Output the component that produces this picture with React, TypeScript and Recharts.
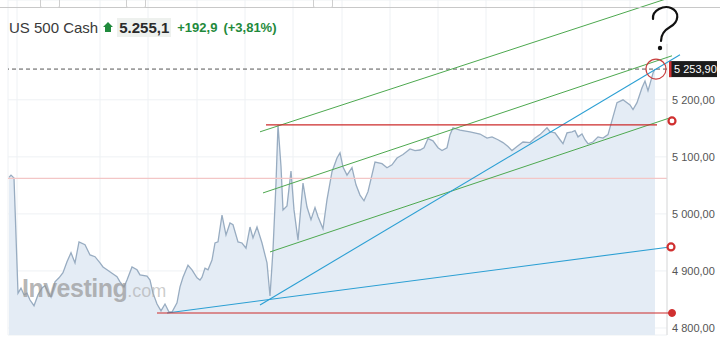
import React from "react";
import {
  ComposedChart,
  Area,
  XAxis,
  YAxis,
  CartesianGrid,
  ReferenceLine,
  ReferenceDot,
} from "recharts";

// bar index (time position) and close price of US 500 Cash
const bars = [
  1, 3, 6, 10, 13, 16, 19, 22, 26, 30, 34, 37, 40, 43, 47, 51, 55, 59, 63, 67,
  71, 77, 82, 87, 92, 95, 99, 104, 109, 112, 116, 119, 124, 129, 132, 139, 142,
  145, 149, 153, 157, 161, 164, 169, 172, 175, 180, 184, 189, 192, 194, 197, 200,
  204, 207, 210, 214, 218, 222, 225, 230, 234, 238, 242, 245, 249, 254, 259, 262,
  265, 268, 270, 273, 275, 279, 283, 286, 290, 295, 299, 303, 307, 310, 315, 319,
  324, 329, 332, 335, 339, 344, 348, 352, 356, 360, 367, 374, 379, 384, 389, 395,
  402, 407, 412, 416, 420, 425, 430, 434, 439, 442, 445, 452, 462, 472, 479, 484,
  490, 495, 500, 504, 509, 515, 522, 527, 532, 539, 542, 547, 552, 555, 559, 564,
  567, 570, 574, 577, 580, 585, 590, 595, 600, 605, 609, 615, 622, 625, 629, 634,
  637, 640, 642, 645, 647,
];
const closes = [
  5064, 5068, 5063, 4861, 4870, 4858, 4861, 4849, 4839, 4858, 4870, 4874, 4863,
  4854, 4881, 4888, 4897, 4916, 4932, 4914, 4951, 4946, 4928, 4925, 4914, 4907,
  4902, 4896, 4890, 4881, 4872, 4884, 4907, 4902, 4893, 4891, 4884, 4861, 4842,
  4830, 4842, 4828, 4828, 4844, 4872, 4889, 4910, 4902, 4888, 4884, 4889, 4905,
  4902, 4919, 4949, 4951, 4998, 4963, 4984, 4981, 4951, 4949, 4940, 4977, 4958,
  4977, 4949, 4914, 4856, 4937, 5054, 5156, 5083, 5007, 5014, 5075, 5007, 4954,
  5054, 5012, 4990, 5011, 4995, 4974, 5025, 5074, 5098, 5107, 5082, 5068, 5081,
  5051, 5033, 5023, 5039, 5091, 5088, 5081, 5086, 5098, 5104, 5114, 5111, 5112,
  5116, 5132, 5128, 5116, 5111, 5116, 5139, 5151, 5147, 5144, 5140, 5133, 5135,
  5130, 5125, 5118, 5111, 5118, 5126, 5125, 5133, 5139, 5151, 5144, 5142, 5130,
  5123, 5142, 5144, 5146, 5135, 5140, 5130, 5123, 5126, 5135, 5133, 5139, 5170,
  5195, 5200, 5191, 5183, 5195, 5221, 5233, 5216, 5228, 5247, 5253.9,
];

const prevClose = 5062.2;
const lastPrice = 5253.9;
const priceTicks = [4800, 4900, 5000, 5100, 5200];
const timeTicks = [9, 92, 140, 189, 237, 285, 334, 382, 430, 478, 526, 574, 622];

// drawn trendlines: [bar1, price1, bar2, price2]
const greenLines = [
  [252, 5143.9, 659, 5377.4],
  [255, 5036.8, 664, 5277.2],
  [262, 4933.3, 664, 5169.6],
];
const blueLines = [
  [252, 4840.3, 672, 5278.9],
  [159, 4826.3, 662, 4942.1],
];
const redLines = [
  [258, 5156.1, 649, 5156.1],
  [149, 4826.3, 664, 4826.3],
];

const data = bars.map((b, i) => ({ bar: b, close: closes[i] }));

const fmt = (v: number) => {
  const [int, dec] = v.toFixed(2).split(".");
  return int.replace(/\B(?=(\d{3})+(?!\d))/g, "\u00a0") + "," + dec;
};

const FONT = "'Liberation Sans', Arial, sans-serif";

const PriceTick = (props: any) => {
  const { x, y, payload } = props;
  return (
    <text x={x} y={y + 4} fill="#555" fontSize={11} fontFamily={FONT}>
      {fmt(payload.value)}
    </text>
  );
};

const PriceTag = (props: any) => {
  const { viewBox } = props;
  const x = viewBox.x + viewBox.width + 2;
  const y = viewBox.y;
  return (
    <g>
      <rect x={x} y={y - 8} width={48} height={16} fill="#1c1c1c" />
      <rect x={x} y={y - 8} width={2.5} height={16} fill="#d03030" />
      <text x={x + 5} y={y + 4} fill="#fff" fontSize={11} fontFamily={FONT}>
        {fmt(lastPrice)}
      </text>
    </g>
  );
};

const seg = (l: number[]) => [
  { x: l[0], y: l[1] },
  { x: l[2], y: l[3] },
];

export default function App() {
  return (
    <div
      style={{
        position: "absolute",
        left: 0,
        top: 0,
        width: 720,
        height: 340,
        background: "#fff",
        overflow: "hidden",
        fontFamily: FONT,
      }}
    >
      <ComposedChart
        width={720}
        height={340}
        data={data}
        margin={{ top: 0, right: 0, left: 8, bottom: 5 }}
      >
        <CartesianGrid stroke="#eef1f4" />
        <XAxis
          type="number"
          dataKey="bar"
          domain={[0, 659]}
          ticks={timeTicks}
          hide
        />
        <YAxis
          orientation="right"
          domain={[4787.7, 5375]}
          ticks={priceTicks}
          axisLine={false}
          tickLine={false}
          tickSize={0}
          tickMargin={5}
          width={53}
          tick={<PriceTick />}
        />
        <Area
          type="linear"
          dataKey="close"
          stroke="#98acc1"
          strokeWidth={1.3}
          fill="#e4ecf5"
          fillOpacity={1}
          dot={false}
          activeDot={false}
          isAnimationActive={false}
        />
        <ReferenceLine y={prevClose} stroke="#f3c6c6" strokeWidth={1.2} />
        <ReferenceLine
          segment={[
            { x: 659, y: 5298 },
            { x: 659, y: 4787.7 },
          ]}
          stroke="#dcdcdc"
          ifOverflow="visible"
        />
        <ReferenceLine
          y={lastPrice}
          stroke="#555"
          strokeDasharray="4 3"
          label={<PriceTag />}
        />
        {greenLines.map((l, i) => (
          <ReferenceLine
            key={"g" + i}
            segment={seg(l)}
            stroke="#4da84f"
            strokeWidth={1}
            ifOverflow="visible"
          />
        ))}
        {blueLines.map((l, i) => (
          <ReferenceLine
            key={"b" + i}
            segment={seg(l)}
            stroke="#2b9fd3"
            strokeWidth={1.1}
            ifOverflow="visible"
          />
        ))}
        {redLines.map((l, i) => (
          <ReferenceLine
            key={"r" + i}
            segment={seg(l)}
            stroke="#cc2b2b"
            strokeWidth={1.1}
            ifOverflow="visible"
          />
        ))}
        <ReferenceDot
          x={664}
          y={5163}
          r={3.5}
          fill="#fff"
          stroke="#d03030"
          strokeWidth={2.2}
          ifOverflow="visible"
        />
        <ReferenceDot
          x={663}
          y={4942.1}
          r={3.5}
          fill="#fff"
          stroke="#d03030"
          strokeWidth={2.2}
          ifOverflow="visible"
        />
        <ReferenceDot
          x={664}
          y={4826.3}
          r={3.5}
          fill="#d03030"
          stroke="#d03030"
          ifOverflow="visible"
        />
        <ReferenceDot
          x={648}
          y={lastPrice}
          r={10}
          fill="none"
          stroke="#c84040"
          strokeWidth={1.2}
          ifOverflow="visible"
        />
      </ComposedChart>

      {/* toolbar strip cut off at the top */}
      <div
        style={{
          position: "absolute",
          left: 0,
          top: 7,
          width: 720,
          borderTop: "1px solid #c8c8c8",
        }}
      />
      {[40, 126, 313].map((x) => (
        <div
          key={x}
          style={{
            position: "absolute",
            left: x,
            top: -4,
            width: 18,
            height: 10,
            border: "1px solid #cfcfcf",
            borderRadius: 2,
          }}
        />
      ))}

      {/* header */}
      <div
        style={{
          position: "absolute",
          left: 9,
          top: 17,
          display: "flex",
          alignItems: "center",
          height: 20,
          whiteSpace: "nowrap",
        }}
      >
        <span style={{ fontSize: 15, color: "#3a3a3a" }}>US 500 Cash</span>
        <svg width={10} height={10} style={{ margin: "0 4px 0 5px" }}>
          <path d="M5 0 L10 5 L8 5 L8 10 L2 10 L2 5 L0 5 Z" fill="#1f8a3c" />
        </svg>
        <span
          style={{
            fontSize: 15,
            fontWeight: "bold",
            color: "#2a2a2a",
            background: "#eef1ee",
            padding: "1px 2px",
          }}
        >
          5.255,1
        </span>
        <span
          style={{
            fontSize: 13,
            fontWeight: "bold",
            color: "#1f8a3c",
            marginLeft: 6,
          }}
        >
          +192,9
        </span>
        <span
          style={{
            fontSize: 13,
            fontWeight: "bold",
            color: "#1f8a3c",
            marginLeft: 6,
          }}
        >
          (+3,81%)
        </span>
      </div>

      {/* watermark */}
      <div
        style={{
          position: "absolute",
          left: 22,
          top: 274,
          whiteSpace: "nowrap",
          pointerEvents: "none",
        }}
      >
        <span
          style={{
            fontSize: 25,
            fontWeight: "bold",
            color: "rgba(150,150,150,0.7)",
            letterSpacing: -0.5,
          }}
        >
          Investing
        </span>
        <span style={{ fontSize: 18, color: "rgba(170,170,170,0.6)" }}>
          .com
        </span>
      </div>

      {/* hand-drawn question mark */}
      <svg
        width={720}
        height={340}
        style={{ position: "absolute", left: 0, top: 0, pointerEvents: "none" }}
      >
        <path
          d="M653 19 C652 10 664 5 671 8 C680 12 679 22 670 27 C663 31 661 35 661 41"
          fill="none"
          stroke="#111"
          strokeWidth={2.2}
          strokeLinecap="round"
        />
        <circle cx={660} cy={48} r={2.2} fill="#111" />
      </svg>
    </div>
  );
}
